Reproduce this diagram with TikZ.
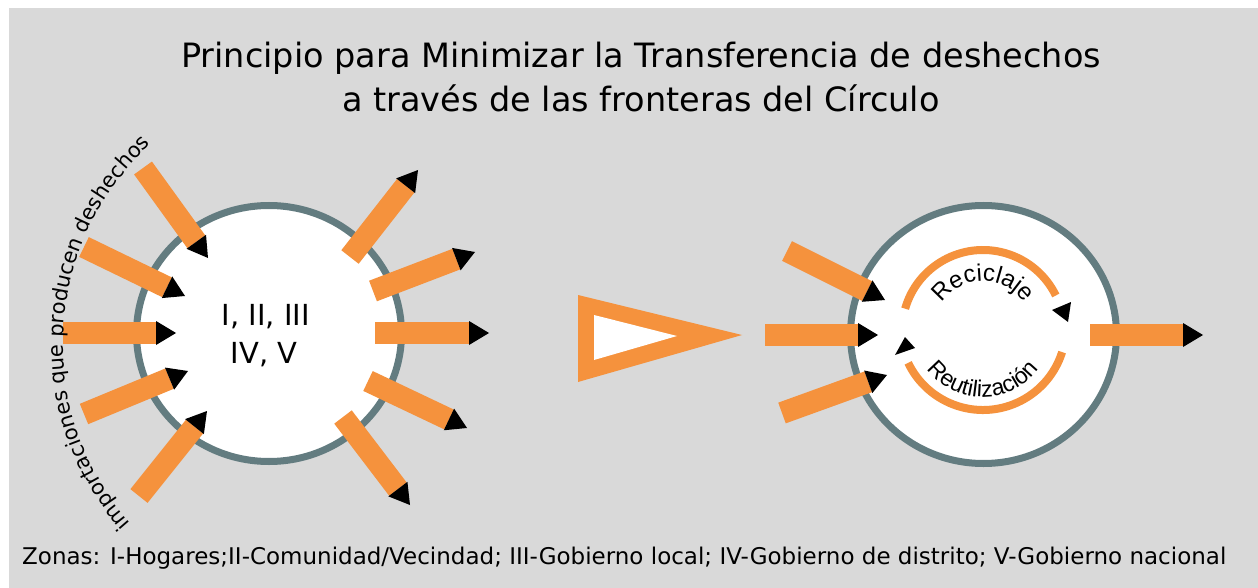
\documentclass[tikz,border=0pt]{standalone}
\usepackage{fontspec}
\setmainfont{DejaVu Sans}
\newfontfamily\arialike{Liberation Sans}
\usetikzlibrary{calc,decorations.text}
\definecolor{bg}{HTML}{D9D9D9}
\definecolor{org}{HTML}{F5923D}
\definecolor{ringc}{HTML}{637C80}
\tikzset{
  bar/.style={line width=22pt, draw=org},
  ringline/.style={draw=ringc, line width=7pt, fill=white},
  tiphead/.style={fill=black},
  cyclearc/.style={draw=org, line width=8pt},
  titlefont/.style={font=\fontsize{33.5}{40}\selectfont},
  zonefont/.style={font=\fontsize{29}{36}\selectfont},
}
\newcommand\flecha[3]{%
  \coordinate (#1s) at (#2);
  \coordinate (#1t) at (#3);
  \coordinate (#1b) at ($(#1t)!20pt!(#1s)$);
  \draw[bar] (#1s) -- (#1b);
  \fill[tiphead] (#1t) -- ($(#1b)!12pt!90:(#1t)$) -- ($(#1b)!12pt!-90:(#1t)$) -- cycle;
}
\begin{document}
\begin{tikzpicture}[x=1pt,y=-1pt]
\useasboundingbox (0,0) rectangle (1258,588);
\fill[white] (0,0) rectangle (1258,588);
\fill[bg] (9,8) rectangle (1258,588);

% title
\node[titlefont, anchor=base, inner sep=0] (t1) at (641,68) {Principio para Minimizar la Transferencia de deshechos};
\node[titlefont, anchor=base, inner sep=0] (t2) at (641,112) {a través de las fronteras del Círculo};

% left circle
\draw[ringline] (269,333.5) ellipse [x radius=132.5, y radius=128];
\node[zonefont, anchor=base, inner sep=0] (z1) at (266,325) {I, II, III};
\node[zonefont, anchor=base, inner sep=0] (z2) at (264,363) {IV, V};

\flecha{l1}{143,168}{208,258}
\flecha{l2}{84,247}{185,296}
\flecha{l3}{63,333}{176,333}
\flecha{l4}{84,414}{188,371}
\flecha{l5}{139,496}{207,411}
\flecha{r1}{350,257}{418,170}
\flecha{r2}{373,291}{475,252}
\flecha{r3}{375,333}{489,333}
\flecha{r4}{368,381}{467,428}
\flecha{r5}{343,417}{410,505}

% curved label
\path[decorate, decoration={text along path, text align=center,
  text={|\fontsize{21}{21}\selectfont|importaciones que producen deshechos}}]
  ($(334,344)+(-222:271)$) arc[start angle=-222, end angle=-132, radius=271];

% big triangle
\fill[org] (578,295) -- (742,335) -- (578,382) -- cycle;
\fill[white] (594,315) -- (677,336) -- (594,360) -- cycle;

% right circle
\draw[ringline] (983.5,334.5) ellipse [x radius=133, y radius=129];
\draw[cyclearc] ($(983,331)+(-164:81)$) arc[start angle=-164, end angle=-26, radius=81];
\draw[cyclearc] ($(983,327)+(17.6:83)$) arc[start angle=17.6, end angle=154.4, radius=83];
\fill[tiphead] (1052,310) -- (1071,302) -- (1068,322) -- cycle;
\fill[tiphead] (905,337) -- (915,348) -- (895,355) -- cycle;
\path[decorate, decoration={text along path, text align=center,
  text={|\arialike\fontsize{24}{24}\selectfont|Reciclaje}}]
  ($(983,331)+(-165:50)$) arc[start angle=-165, end angle=-15, radius=50];
\path[decorate, decoration={text along path, text align=center,
  text={|\arialike\fontsize{23}{23}\selectfont|Reutilización}}]
  ($(983,327)+(-200:70)$) arc[start angle=-200, end angle=-340, radius=70];

\flecha{i1}{787,251}{885,300}
\flecha{i2}{765,335}{878,335}
\flecha{i3}{782,413}{887,375}
\flecha{o1}{1090,335}{1203,335}

% footnote
\node[font=\fontsize{23}{28}\selectfont, anchor=base west, inner sep=0] (zn) at (22,564)
  {Zonas: I-Hogares;II-Comunidad/Vecindad; III-Gobierno local; IV-Gobierno de distrito; V-Gobierno nacional};
\end{tikzpicture}
\end{document}
